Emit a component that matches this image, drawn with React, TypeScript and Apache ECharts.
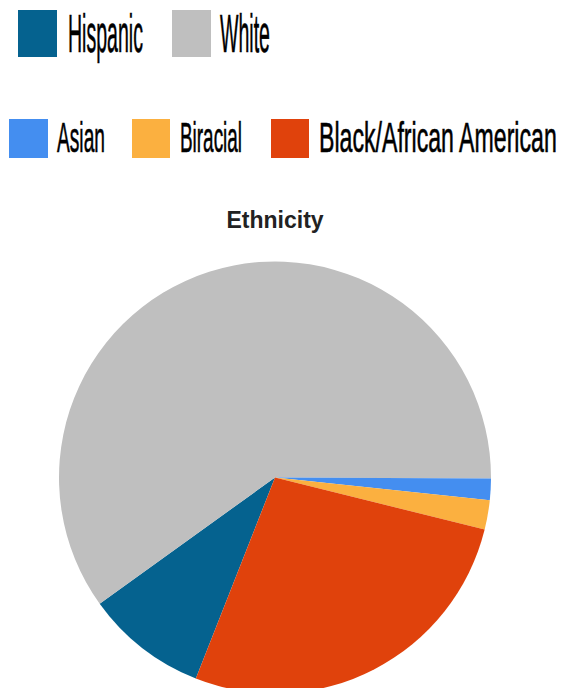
import React, { useEffect, useRef } from "react";
import * as echarts from "echarts";

const categories = ["Hispanic", "White", "Asian", "Biracial", "Black/African American"];
const values = [9.1, 60.0, 1.6, 2.2, 27.1];
const colors = ["#05628f", "#bfbfbf", "#448ef0", "#fbb040", "#e0420c"];
const titleText = "Ethnicity";

// legend item layout (positions/sizes), one per category
const legendLayout = [
  { icon: [18, 10, 39, 47], textX: 68, textW: 75, baseline: 52, fs: 53 },
  { icon: [172, 10, 39, 47], textX: 220, textW: 50, baseline: 52, fs: 53 },
  { icon: [9, 119, 39, 39], textX: 57, textW: 48, baseline: 152, fs: 43 },
  { icon: [132, 119, 38, 39], textX: 180, textW: 62, baseline: 152, fs: 43 },
  { icon: [271, 119, 38, 39], textX: 319, textW: 239, baseline: 152, fs: 43 },
];

const FONT = '"Liberation Sans Narrow", "Liberation Sans", Arial, sans-serif';
const TITLE_FONT = '"Liberation Sans", Arial, sans-serif';

function measure(text: string, fs: number): number {
  const c = document.createElement("canvas");
  const ctx = c.getContext("2d");
  if (!ctx) return text.length * fs * 0.5;
  ctx.font = `${fs}px ${FONT}`;
  return ctx.measureText(text).width;
}

export default function App() {
  const ref = useRef<HTMLDivElement>(null);
  useEffect(() => {
    if (!ref.current) return;
    const chart = echarts.init(ref.current, undefined, { renderer: "svg" });
    const legendGraphics: any[] = [];
    categories.forEach((name, i) => {
      const l = legendLayout[i];
      legendGraphics.push({
        type: "rect",
        shape: { x: l.icon[0], y: l.icon[1], width: l.icon[2], height: l.icon[3] },
        style: { fill: colors[i] },
        silent: true,
      });
      const w = measure(name, l.fs);
      legendGraphics.push({
        type: "text",
        x: l.textX,
        y: l.baseline - 0.3465 * l.fs,
        scaleX: l.textW / w,
        style: {
          text: name,
          fontSize: l.fs,
          fontFamily: FONT,
          fill: "#000000",
          stroke: "#000000",
          lineWidth: 0.6,
          strokeNoScale: true,
          align: "left",
          verticalAlign: "middle",
        },
        silent: true,
      });
    });
    chart.setOption({
      animation: false,
      title: {
        text: titleText,
        left: 226.5,
        top: 208,
        padding: 0,
        textStyle: { fontSize: 23, fontWeight: "bold", color: "#222222", fontFamily: TITLE_FONT },
      },
      legend: { show: false },
      graphic: legendGraphics,
      series: [
        {
          type: "pie",
          center: [275, 477.5],
          radius: 216,
          startAngle: 248.5,
          clockwise: true,
          label: { show: false },
          labelLine: { show: false },
          emphasis: { disabled: true },
          itemStyle: { borderWidth: 0 },
          data: categories.map((name, i) => ({
            name,
            value: values[i],
            itemStyle: { color: colors[i] },
          })),
        },
      ],
    });
    return () => chart.dispose();
  }, []);
  return (
    <div
      ref={ref}
      style={{ position: "fixed", left: 0, top: 0, width: 561, height: 688, background: "#ffffff" }}
    />
  );
}
